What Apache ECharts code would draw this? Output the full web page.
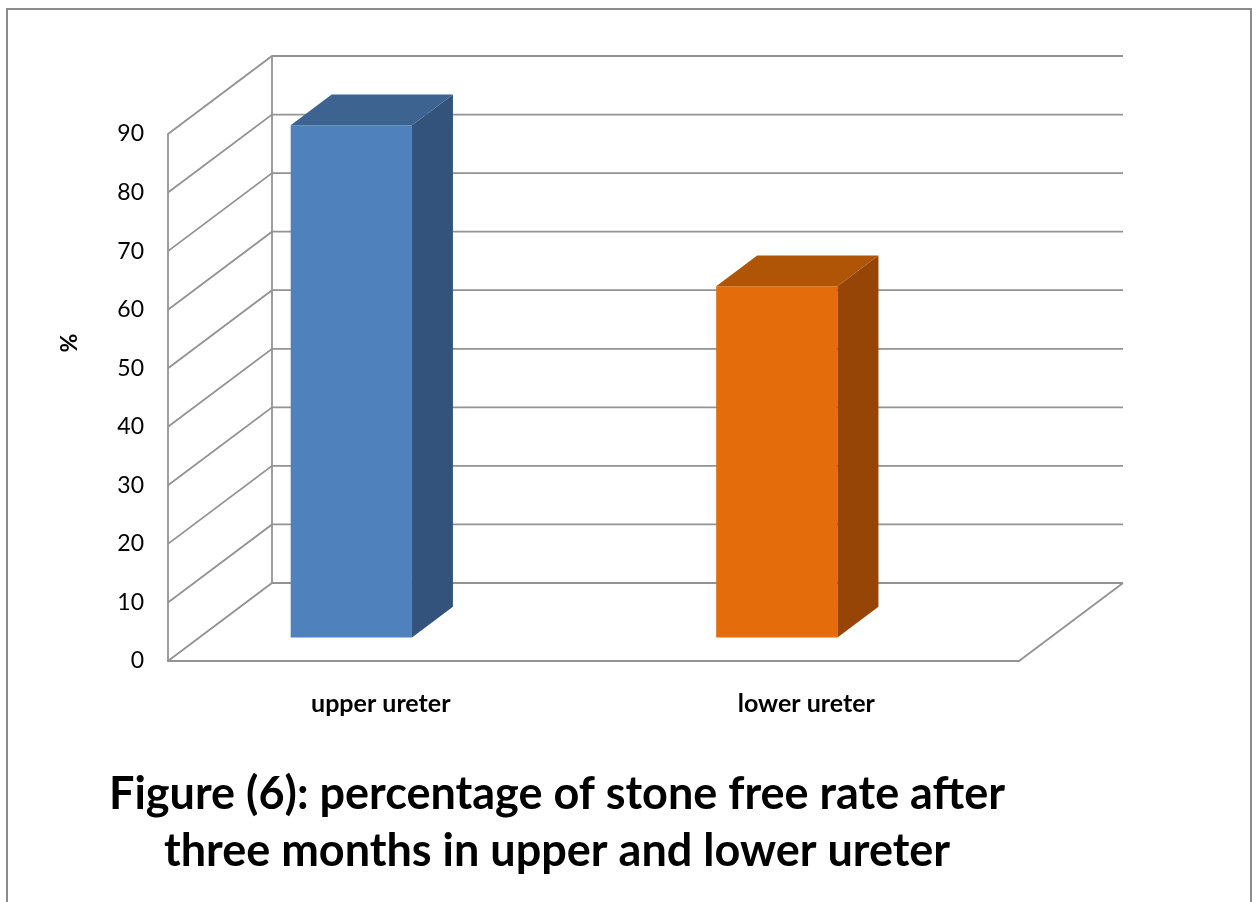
<!DOCTYPE html>
<html>
<head>
<meta charset="utf-8">
<style>
  html, body { margin: 0; padding: 0; background: #ffffff; }
  #chart { width: 1256px; height: 902px; }
</style>
<script src="https://cdn.jsdelivr.net/npm/echarts@6/dist/echarts.min.js"></script>
</head>
<body>
<div id="chart"></div>
<script>
// Stone free rate after three months, by stone location
const categories = ['upper ureter', 'lower ureter'];
const stoneFreeRate = [87.5, 60];
const yTicks = [0, 10, 20, 30, 40, 50, 60, 70, 80, 90];

// Oblique projection of the chart depth (pixels from front plane to back wall)
const DEPTH_X = 104;
const DEPTH_Y = -78;
// Bar body occupies this slice of the depth
const BAR_FRONT = 0.3;
const BAR_BACK = 0.694;
const BAR_WIDTH_FRAC = 0.285;

const faceColors = [
  { front: '#4f81bd', top: '#3d6390', side: '#33537c' },
  { front: '#e46c0a', top: '#b05406', side: '#964506' }
];
const wallColor = '#939393';
const wallWidth = 1.8;

const chart = echarts.init(document.getElementById('chart'), null, { renderer: 'canvas' });

function shift(p, f) {
  return [p[0] + DEPTH_X * f, p[1] + DEPTH_Y * f];
}

const option = {
  backgroundColor: '#ffffff',
  animation: false,
  grid: { left: 168, top: 134, width: 851, height: 527 },
  xAxis: {
    type: 'category',
    data: categories,
    axisLine: { show: true, lineStyle: { color: wallColor, width: wallWidth } },
    axisTick: { show: false },
    axisLabel: {
      margin: 30,
      fontFamily: 'Lato',
      fontWeight: 'bold',
      fontSize: 25,
      color: '#000000'
    }
  },
  yAxis: {
    type: 'value',
    min: 0,
    max: 90,
    interval: 10,
    axisLine: { show: true, lineStyle: { color: wallColor, width: wallWidth } },
    axisTick: { show: false },
    splitLine: { show: false },
    axisLabel: { margin: 24, fontFamily: 'Lato', fontSize: 23, color: '#000000' }
  },
  graphic: [
    {
      type: 'rect',
      shape: { x: 7, y: 9, width: 1244, height: 905 },
      style: { fill: 'none', stroke: '#8c8c8c', lineWidth: 2 },
      silent: true
    },
    {
      // y axis title
      type: 'text',
      x: 70,
      y: 343,
      rotation: Math.PI / 2,
      style: {
        text: '%',
        textAlign: 'center',
        textVerticalAlign: 'middle',
        fontFamily: 'Lato',
        fontWeight: 'bold',
        fontSize: 23,
        fill: '#000000'
      }
    },
    {
      type: 'text',
      x: 557,
      y: 766,
      style: {
        text: 'Figure (6): percentage of stone free rate after\nthree months in upper and lower ureter',
        textAlign: 'center',
        textVerticalAlign: 'top',
        fontFamily: 'Lato',
        fontWeight: 'bold',
        fontSize: 45,
        lineHeight: 57,
        fill: '#000000'
      }
    }
  ],
  series: [
    {
      // Left wall, back wall gridlines and floor
      type: 'custom',
      silent: true,
      z: 1,
      data: yTicks.map(v => [0, v]),
      renderItem: function (params, api) {
        const cs = params.coordSys;
        const v = api.value(1);
        const y = api.coord([0, v])[1];
        const left = [cs.x, y];
        const right = [cs.x + cs.width, y];
        const children = [{
          type: 'polyline',
          shape: { points: [left, shift(left, 1), shift(right, 1)] },
          style: { stroke: wallColor, lineWidth: wallWidth, fill: 'none' }
        }];
        if (v === 0) {
          const yTop = api.coord([0, yTicks[yTicks.length - 1]])[1];
          children.push({
            type: 'line',
            shape: { x1: right[0], y1: right[1], x2: right[0] + DEPTH_X, y2: right[1] + DEPTH_Y },
            style: { stroke: wallColor, lineWidth: wallWidth }
          });
          children.push({
            type: 'line',
            shape: { x1: cs.x + DEPTH_X, y1: y + DEPTH_Y, x2: cs.x + DEPTH_X, y2: yTop + DEPTH_Y },
            style: { stroke: wallColor, lineWidth: wallWidth }
          });
        }
        return { type: 'group', children: children };
      }
    },
    {
      // 3D columns
      type: 'custom',
      z: 2,
      data: stoneFreeRate.map((v, i) => [i, v]),
      renderItem: function (params, api) {
        const i = api.value(0);
        const base = api.coord([i, 0]);
        const top = api.coord([i, api.value(1)]);
        const band = api.size([1, 0])[0];
        const x1 = base[0] - band * BAR_WIDTH_FRAC;
        const x2 = base[0];
        const c = faceColors[i];
        const fTL = shift([x1, top[1]], BAR_FRONT);
        const fTR = shift([x2, top[1]], BAR_FRONT);
        const fBR = shift([x2, base[1]], BAR_FRONT);
        const fBL = shift([x1, base[1]], BAR_FRONT);
        const bTL = shift([x1, top[1]], BAR_BACK);
        const bTR = shift([x2, top[1]], BAR_BACK);
        const bBR = shift([x2, base[1]], BAR_BACK);
        return {
          type: 'group',
          children: [
            { type: 'polygon', shape: { points: [fTL, fTR, fBR, fBL] }, style: { fill: c.front } },
            { type: 'polygon', shape: { points: [fTL, bTL, bTR, fTR] }, style: { fill: c.top } },
            { type: 'polygon', shape: { points: [fTR, bTR, bBR, fBR] }, style: { fill: c.side } }
          ]
        };
      }
    }
  ]
};

chart.setOption(option);
</script>
</body>
</html>
